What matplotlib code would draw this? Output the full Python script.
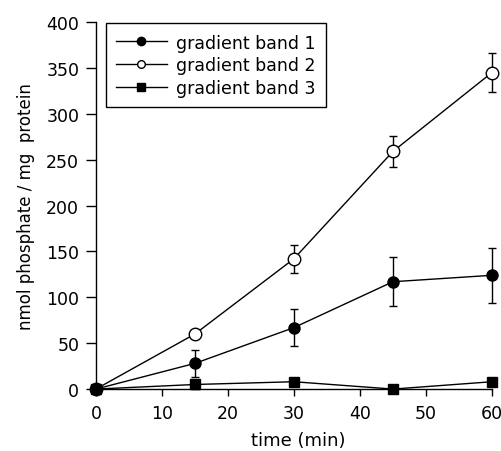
import matplotlib
matplotlib.use("Agg")
import matplotlib.pyplot as plt
from matplotlib.lines import Line2D

plt.rcParams['font.family'] = ['DejaVu Sans']

time = [0, 15, 30, 45, 60]
band1 = [0, 28, 67, 117, 124]
band1_err = [0, 15, 20, 27, 30]
band2 = [0, 60, 142, 259, 345]
band2_err = [0, 4, 15, 17, 21]
band3 = [0, 5, 8, 0, 8]
band3_err = [0, 5, 4, 1, 4]

labels = ['gradient band 1', 'gradient band 2', 'gradient band 3']
xticks = [0, 10, 20, 30, 40, 50, 60]
yticks = [0, 50, 100, 150, 200, 250, 300, 350, 400]

fig = plt.figure(figsize=(5.02, 4.52), dpi=100)
ax = fig.add_axes([0.191, 0.137, 0.789, 0.812])

common = dict(color='black', lw=1.0, capsize=3, elinewidth=1.0, capthick=1.0)
ax.errorbar(time, band1, yerr=band1_err, marker='o', ms=8, mfc='black', mec='black', **common)
ax.errorbar(time, band2, yerr=band2_err, marker='o', ms=9, mfc='white', mec='black', **common)
ax.errorbar(time, band3, yerr=band3_err, marker='s', ms=7, mfc='black', mec='black', **common)

ax.set_xlim(0, 60)
ax.set_ylim(0, 400)
ax.set_xticks(xticks)
ax.set_yticks(yticks)
for s in ['top', 'right']:
    ax.spines[s].set_visible(False)
for s in ['left', 'bottom']:
    ax.spines[s].set_linewidth(1.0)
ax.tick_params(axis='x', direction='out', length=5, width=1, labelsize=12.5, pad=6)
ax.tick_params(axis='y', direction='out', length=7, width=1, labelsize=12.5, pad=5)
ax.set_xlabel('time (min)', fontsize=13, labelpad=1)
ax.xaxis.set_label_coords(0.51, -0.115)
ax.set_ylabel('nmol phosphate / mg  protein', fontsize=12, labelpad=8)

handles = [
    Line2D([], [], color='black', lw=1.0, marker='o', ms=6, mfc='black', mec='black'),
    Line2D([], [], color='black', lw=1.0, marker='o', ms=5.5, mfc='white', mec='black'),
    Line2D([], [], color='black', lw=1.0, marker='s', ms=6, mfc='black', mec='black'),
]
leg = ax.legend(handles, labels, loc='upper left', bbox_to_anchor=(0.025, 0.997), fontsize=12.5,
                frameon=True, fancybox=False, edgecolor='black', framealpha=1,
                handlelength=2.9, borderpad=0.6, labelspacing=0.27, handletextpad=0.55,
                borderaxespad=0.0)
leg.get_frame().set_linewidth(1.0)

for line in ax.lines + ax.collections:
    line.set_clip_on(False)

fig.savefig('out.png', dpi=100)
